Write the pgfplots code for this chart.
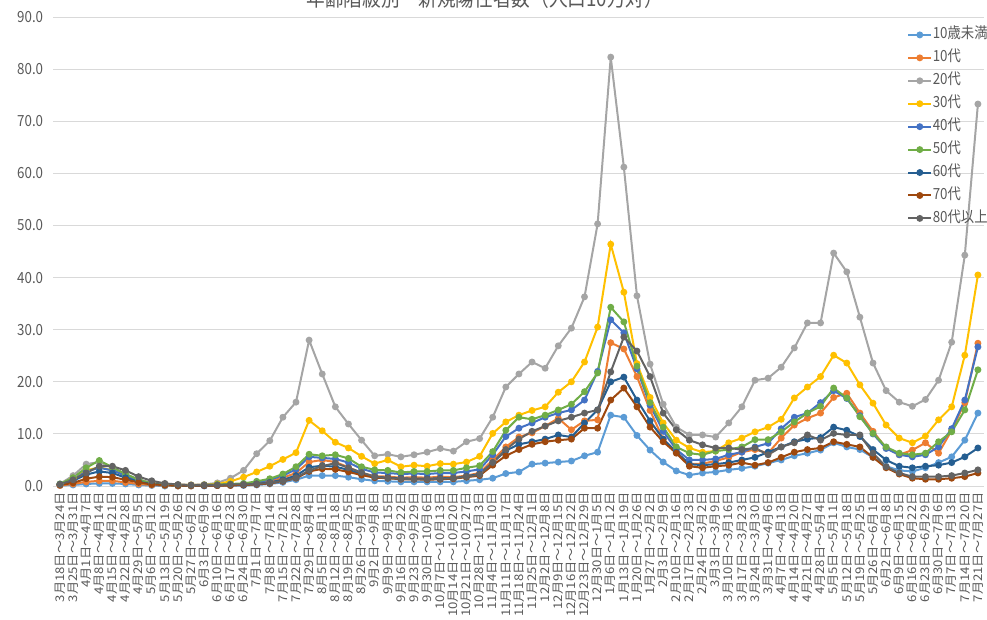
\documentclass[border=0pt]{standalone}
\usepackage{pgfplots}
\pgfplotsset{compat=1.18}
\usepackage{pgfplotstable}
\usepackage{fontspec}
\setmainfont{Noto Sans CJK JP}
\usetikzlibrary{calc}
\definecolor{ca}{HTML}{5B9BD5}
\definecolor{cb}{HTML}{ED7D31}
\definecolor{cc}{HTML}{A5A5A5}
\definecolor{cd}{HTML}{FFC000}
\definecolor{ce}{HTML}{4472C4}
\definecolor{cf}{HTML}{70AD47}
\definecolor{cg}{HTML}{255E91}
\definecolor{ch}{HTML}{9E480E}
\definecolor{ci}{HTML}{636363}
\definecolor{txt}{HTML}{595959}
\definecolor{grd}{HTML}{D9D9D9}
\newcommand{\lgt}[1]{\scalebox{1}[1.15]{#1}}
\pgfplotstableread{
x a b c d e f g h i
0 0.1 0.1 0.4 0.3 0.3 0.4 0.3 0.2 0.3
1 0.2 0.4 2.0 1.5 1.2 1.6 1.0 0.6 1.2
2 0.4 0.8 4.2 3.0 2.8 3.5 2.2 1.4 2.5
3 0.5 1.0 4.6 3.6 3.5 4.9 2.8 1.8 3.8
4 0.5 1.0 3.5 3.0 3.0 3.6 2.5 1.7 3.8
5 0.4 0.7 2.3 2.0 2.0 2.3 1.6 1.2 3.0
6 0.2 0.4 1.3 1.1 1.0 1.2 0.8 0.7 1.8
7 0.1 0.2 0.6 0.5 0.4 0.5 0.4 0.3 1.0
8 0.0 0.1 0.3 0.3 0.2 0.2 0.2 0.2 0.5
9 0.0 0.0 0.2 0.2 0.1 0.1 0.1 0.1 0.3
10 0.0 0.0 0.2 0.2 0.1 0.1 0.1 0.1 0.2
11 0.0 0.1 0.3 0.2 0.1 0.2 0.1 0.1 0.2
12 0.1 0.1 0.6 0.4 0.2 0.3 0.1 0.1 0.2
13 0.1 0.2 1.5 0.9 0.3 0.4 0.2 0.1 0.3
14 0.1 0.3 3.0 1.7 0.4 0.5 0.2 0.2 0.3
15 0.2 0.5 6.2 2.7 0.7 0.9 0.4 0.3 0.4
16 0.4 0.9 8.7 3.8 1.2 1.4 0.7 0.5 0.6
17 0.7 1.6 13.2 5.1 2.0 2.3 1.2 0.9 1.0
18 1.2 2.5 16.1 6.4 3.2 3.7 2.0 1.5 1.6
19 2.0 4.6 28.0 12.6 5.6 6.1 3.6 2.8 3.0
20 2.0 5.0 21.5 10.6 5.4 5.8 3.9 3.3 3.8
21 2.0 4.6 15.2 8.4 5.2 6.0 3.7 3.2 4.4
22 1.7 3.6 11.9 7.3 4.5 5.3 3.1 2.7 3.5
23 1.3 2.5 8.8 5.7 3.3 3.7 2.3 2.1 2.6
24 1.0 1.9 5.8 4.3 2.6 3.1 1.8 1.6 1.8
25 0.9 1.8 6.1 5.0 2.5 3.0 1.6 1.5 1.5
26 0.8 1.6 5.6 3.7 2.3 2.6 1.5 1.3 1.4
27 0.8 1.7 6.0 4.0 2.4 2.8 1.4 1.3 1.3
28 0.8 1.6 6.5 3.8 2.3 2.8 1.4 1.2 1.3
29 0.8 1.8 7.2 4.3 2.5 3.0 1.5 1.3 1.4
30 0.8 1.7 6.7 4.2 2.5 3.0 1.5 1.4 1.5
31 1.0 2.0 8.5 4.6 2.8 3.5 1.9 1.7 1.8
32 1.2 2.5 9.1 5.7 3.2 3.9 2.3 2.0 2.2
33 1.5 5.0 13.2 10.1 6.0 6.6 4.5 4.0 4.5
34 2.4 7.5 19.0 12.3 9.5 10.7 6.8 5.8 7.0
35 2.7 9.4 21.5 13.6 11.1 13.2 8.0 7.0 9.0
36 4.2 10.2 23.8 14.5 12.1 12.8 8.5 8.0 10.5
37 4.4 11.5 22.6 15.2 13.2 13.6 9.0 8.5 11.5
38 4.6 13.0 26.9 18.0 14.0 14.6 9.8 8.8 12.5
39 4.8 10.8 30.3 20.0 14.6 15.7 9.4 9.0 13.2
40 5.8 12.5 36.3 23.8 16.5 18.1 12.1 11.1 14.0
41 6.5 12.7 50.3 30.5 22.0 21.7 14.6 11.1 14.6
42 13.6 27.5 82.3 46.4 31.9 34.3 20.0 16.5 21.9
43 13.2 26.3 61.2 37.2 29.4 31.5 20.9 18.8 28.6
44 9.7 21.0 36.5 23.5 22.5 23.0 16.5 15.2 25.9
45 6.9 14.5 23.4 17.0 15.5 16.0 12.5 11.3 21.0
46 4.6 9.0 15.7 12.1 10.5 11.3 9.0 8.5 14.0
47 2.9 6.5 11.3 8.8 7.0 7.5 6.5 6.3 10.8
48 2.1 4.2 9.8 7.3 5.0 6.3 4.2 3.8 8.8
49 2.5 4.3 9.8 6.5 5.0 6.0 4.0 3.5 7.9
50 2.7 4.8 9.4 6.7 5.2 6.7 4.2 3.8 7.3
51 3.1 5.5 12.1 8.3 6.0 7.0 4.5 4.0 7.3
52 3.4 6.5 15.2 9.2 6.5 7.5 5.0 4.5 7.0
53 3.8 7.0 20.3 10.4 7.5 8.9 5.5 4.0 7.3
54 4.4 6.3 20.7 11.3 8.2 8.9 6.5 4.5 6.0
55 5.0 9.2 22.8 12.8 11.0 10.4 7.5 5.5 7.5
56 5.8 11.7 26.5 16.9 13.2 12.3 8.5 6.5 8.3
57 6.3 13.0 31.3 19.0 14.0 14.0 9.0 7.0 9.8
58 6.9 14.0 31.3 21.0 16.0 15.3 9.3 7.3 8.8
59 8.3 17.0 44.7 25.1 18.3 18.8 11.3 8.5 10.1
60 7.5 17.8 41.1 23.6 16.8 16.9 10.7 8.0 9.8
61 7.0 14.0 32.4 19.4 13.5 13.3 9.5 7.5 9.8
62 5.5 10.5 23.6 15.9 10.0 10.1 7.0 5.5 6.3
63 3.8 7.3 18.3 11.7 7.2 7.5 5.0 3.5 3.7
64 3.0 6.0 16.1 9.2 6.0 6.3 3.8 2.3 2.5
65 2.8 6.9 15.3 8.3 5.6 6.0 3.5 1.5 1.8
66 3.5 8.3 16.6 9.6 6.0 6.3 3.8 1.3 1.8
67 4.5 6.3 20.3 12.7 7.5 8.5 4.0 1.3 1.8
68 5.6 10.7 27.6 15.2 11.0 10.4 4.5 1.5 2.0
69 8.8 16.0 44.3 25.1 16.5 14.6 5.6 1.8 2.5
70 14.0 27.4 73.3 40.5 26.7 22.3 7.3 2.5 3.1
}\data
\begin{document}
\begin{tikzpicture}
\begin{axis}[name=ax,
  scale only axis, width=698.25pt, height=351.75pt,
  xmin=-0.5, xmax=70.5, ymin=0, ymax=90,
  axis line style={draw=none},
  major tick length=0pt,
  ytick={0,10,...,90},
  ymajorgrids, grid style={grd, line width=0.75pt},
  /pgf/number format/.cd, fixed, fixed zerofill, precision=1, assume math mode=true,
  /pgfplots/.cd,
  yticklabel style={font=\fontsize{10}{12}\selectfont, text=txt, anchor=east, inner sep=0pt, yscale=1.15},
  yticklabel shift=7.5pt,
  xtick={0,...,70},
  xticklabels={3月18日～3月24日,3月25日～3月31日,4月1日～4月7日,4月8日～4月14日,4月15日～4月21日,4月22日～4月28日,4月29日～5月5日,5月6日～5月12日,5月13日～5月19日,5月20日～5月26日,5月27日～6月2日,6月3日～6月9日,6月10日～6月16日,6月17日～6月23日,6月24日～6月30日,7月1日～7月7日,7月8日～7月14日,7月15日～7月21日,7月22日～7月28日,7月29日～8月4日,8月5日～8月11日,8月12日～8月18日,8月19日～8月25日,8月26日～9月1日,9月2日～9月8日,9月9日～9月15日,9月16日～9月22日,9月23日～9月29日,9月30日～10月6日,10月7日～10月13日,10月14日～10月20日,10月21日～10月27日,10月28日～11月3日,11月4日～11月10日,11月11日～11月17日,11月18日～11月24日,11月25日～12月1日,12月2日～12月8日,12月9日～12月15日,12月16日～12月22日,12月23日～12月29日,12月30日～1月5日,1月6日～1月12日,1月13日～1月19日,1月20日～1月26日,1月27日～2月2日,2月3日～2月9日,2月10日～2月16日,2月17日～2月23日,2月24日～3月2日,3月3日～3月9日,3月10日～3月16日,3月17日～3月23日,3月24日～3月30日,3月31日～4月6日,4月7日～4月13日,4月14日～4月20日,4月21日～4月27日,4月28日～5月4日,5月5日～5月11日,5月12日～5月18日,5月19日～5月25日,5月26日～6月1日,6月2日～6月8日,6月9日～6月15日,6月16日～6月22日,6月23日～6月29日,6月30日～7月6日,7月7日～7月13日,7月14日～7月20日,7月21日～7月27日},
  xticklabel style={font=\fontsize{9}{10}\selectfont, text=txt, rotate=90, xscale=1.1, anchor=east, inner sep=0pt},
  xticklabel shift=4.5pt,
  every axis plot/.append style={line width=1.5pt, mark=*, mark size=1.8pt, mark options={solid}},
  legend cell align=left,
  legend image code/.code={\draw[mark repeat=2,mark phase=2,#1] plot coordinates {(0pt,0pt) (8.5pt,0pt) (17pt,0pt)};},
  legend style={at={(0.917,0.978)}, anchor=north west, draw=none, fill=none, inner sep=0pt,
    font=\fontsize{10}{12}\selectfont, text=txt,
    nodes={inner sep=0.5pt, text height=8pt, text depth=2pt}, row sep=6.2pt},
]
\addplot[ca] table[x=x,y=a]{\data};
\addplot[cb] table[x=x,y=b]{\data};
\addplot[cc] table[x=x,y=c]{\data};
\addplot[cd] table[x=x,y=d]{\data};
\addplot[ce] table[x=x,y=e]{\data};
\addplot[cf] table[x=x,y=f]{\data};
\addplot[cg] table[x=x,y=g]{\data};
\addplot[ch] table[x=x,y=h]{\data};
\addplot[ci] table[x=x,y=i]{\data};
\legend{\lgt{10歳未満},\lgt{10代},\lgt{20代},\lgt{30代},\lgt{40代},\lgt{50代},\lgt{60代},\lgt{70代},\lgt{80代以上}}
\end{axis}
\node[anchor=base, text=txt, font=\fontsize{14}{16}\selectfont, yscale=1.15] at ($(ax.north)+(-25.5pt,7.5pt)$) {年齢階級別　新規陽性者数（人口10万対）};
\pgfresetboundingbox
\useasboundingbox ($(ax.south west)+(-40.05pt,-99.75pt)$) rectangle ($(ax.north east)+(1.9pt,12.75pt)$);
\end{tikzpicture}
\end{document}
